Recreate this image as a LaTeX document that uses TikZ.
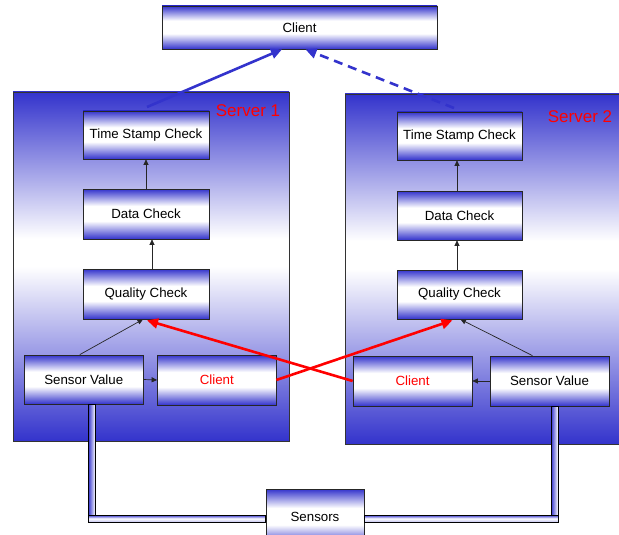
\documentclass[tikz,border=0pt]{standalone}
\usepackage{fontspec}
\setmainfont{Liberation Sans}
\usetikzlibrary{arrows.meta,calc}
\definecolor{sblue}{RGB}{51,51,204}
\definecolor{sred}{RGB}{255,0,0}
\pgfdeclareverticalshading{boxsh}{100bp}{color(0bp)=(sblue); color(25bp)=(sblue); color(43bp)=(white); color(58bp)=(white); color(75bp)=(sblue); color(100bp)=(sblue)}
\pgfdeclareverticalshading{serversh}{100bp}{color(0bp)=(sblue); color(25bp)=(sblue); color(50bp)=(white); color(54bp)=(white); color(75bp)=(sblue); color(100bp)=(sblue)}
\tikzset{
  server/.style={draw=black!80, line width=0.7pt, shading=serversh, inner sep=0pt},
  box/.style={draw=black!85, line width=0.7pt, shading=boxsh, inner sep=0pt, align=center, font=\fontsize{13.3}{15}\selectfont},
  slabel/.style={text=sred, font=\fontsize{17}{19}\selectfont, inner sep=0pt},
  flow/.style={draw=black!85, line width=0.7pt, -{Triangle[length=5.5pt,width=5pt]}},
  redarrow/.style={draw=sred, line width=2.6pt, -{Triangle[length=11pt,width=10pt]}},
  bluearrow/.style={draw=sblue, line width=2.6pt, -{Triangle[length=11pt,width=10pt]}},
  vpipe/.style={left color=sblue, right color=white, draw=black, line width=0.6pt},
  hpipe/.style={top color=sblue, bottom color=sblue!30, middle color=white, draw=black, line width=0.6pt}
}
\begin{document}
\begin{tikzpicture}[x=1pt,y=-1pt]
\useasboundingbox (0,0) rectangle (619,535);
% servers
\node[server, minimum width=276pt, minimum height=349pt] (srv1) at (151,266.5) {};
\node[server, minimum width=282pt, minimum height=350pt] (srv2) at (486,269) {};
\node[slabel] (lab1) at (248,111) {Server 1};
\node[slabel] (lab2) at (580,117) {Server 2};
% top client
\node[box, minimum width=275pt, minimum height=43pt] (client) at (299.5,27.5) {Client};
% server 1
\node[box, minimum width=126pt, minimum height=48pt] (ts1) at (146,135) {Time Stamp Check};
\node[box, minimum width=126pt, minimum height=50pt] (dc1) at (146,214) {Data Check};
\node[box, minimum width=126pt, minimum height=50pt] (qc1) at (146,294) {Quality Check};
\node[box, minimum width=118.5pt, minimum height=49pt] (sv1) at (83.75,379.5) {Sensor Value};
\node[box, minimum width=118.5pt, minimum height=50pt, text=sred] (cl1) at (216.75,380) {Client};
% server 2
\node[box, minimum width=125pt, minimum height=48pt] (ts2) at (459.5,136) {Time Stamp Check};
\node[box, minimum width=125pt, minimum height=49pt] (dc2) at (459.5,215.5) {Data Check};
\node[box, minimum width=125pt, minimum height=49pt] (qc2) at (459.5,294.5) {Quality Check};
\node[box, minimum width=119pt, minimum height=50pt, text=sred] (cl2) at (412.5,381) {Client};
\node[box, minimum width=119pt, minimum height=50pt] (sv2) at (549.5,381) {Sensor Value};
% sensors
\node[box, minimum width=98pt, minimum height=56pt] (sensors) at (315,517) {Sensors};
% pipes
\coordinate (p1a) at ($(sv1.south)+(4.5,0)$);
\coordinate (p1b) at ($(sv1.south)+(11.5,0)$);
\coordinate (p2a) at ($(sv2.south)+(1.5,0)$);
\coordinate (p2b) at ($(sv2.south)+(8.5,0)$);
\coordinate (hy1) at ($(sensors.west)+(0,-2)$);
\coordinate (hy2) at ($(sensors.west)+(0,5)$);
\shade[vpipe] (p1a) rectangle (p1b |- hy1);
\shade[hpipe] (p1a |- hy1) rectangle (sensors.west |- hy2);
\shade[vpipe] (p2a) rectangle (p2b |- hy1);
\shade[hpipe] (sensors.east |- hy1) rectangle (p2b |- hy2);
% black flow arrows server 1
\draw[flow] (dc1.north) -- (ts1.south);
\draw[flow] ($(qc1.north)+(6,0)$) -- ($(dc1.south)+(6,0)$);
\draw[flow] ($(sv1.north)+(-4,0)$) -- ($(qc1.south)+(-3,0)$);
\draw[flow] (sv1.east) -- (cl1.west);
% black flow arrows server 2
\draw[flow] ($(dc2.north)+(-2.5,0)$) -- ($(ts2.south)+(-2.5,0)$);
\draw[flow] ($(qc2.north)+(-2.5,0)$) -- ($(dc2.south)+(-2.5,0)$);
\draw[flow] ($(sv2.north)+(-17,0)$) -- ($(qc2.south)+(1,0)$);
\draw[flow] (sv2.west) -- (cl2.east);
% red cross arrows
\draw[redarrow] (cl1.east) -- ($(qc2.south)+(-7,1)$);
\draw[redarrow] (cl2.west) -- ($(qc1.south)+(1,1)$);
% blue arrows to client
\coordinate (b1) at (147,107);
\coordinate (b2) at (454,108);
\draw[bluearrow] (b1) -- ($(client.south)+(-17.5,0)$);
\draw[bluearrow, dash pattern=on 9pt off 6pt] (b2) -- ($(client.south)+(6,0)$);
\end{tikzpicture}
\end{document}
